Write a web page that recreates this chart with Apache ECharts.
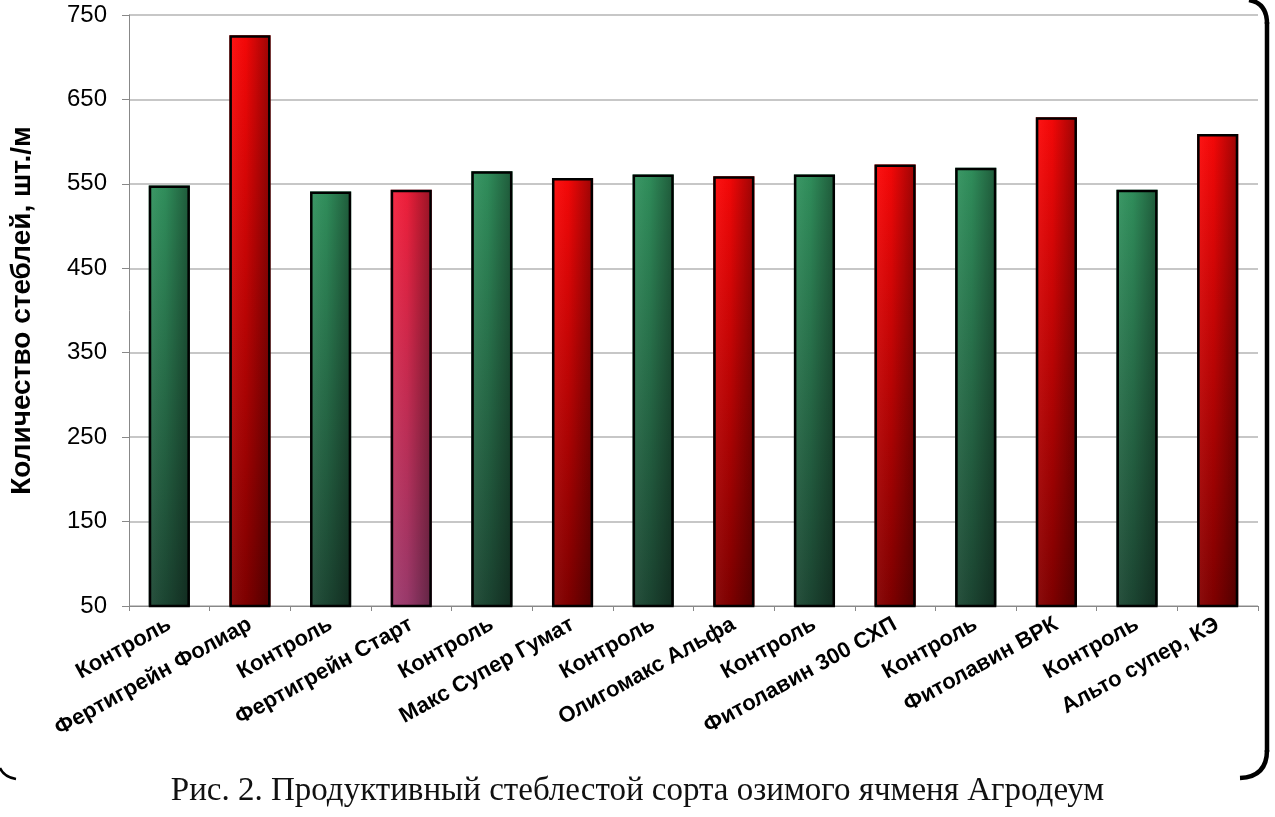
<!DOCTYPE html>
<html>
<head>
<meta charset="utf-8">
<script src="https://cdn.jsdelivr.net/npm/echarts@6/dist/echarts.min.js"></script>
<style>
  html, body { margin: 0; padding: 0; background: #fff; }
  #chart { width: 1275px; height: 817px; }
</style>
</head>
<body>
<div id="chart"></div>
<script>
// Продуктивный стеблестой, шт./м
var categories = ['Контроль', 'Фертигрейн Фолиар', 'Контроль', 'Фертигрейн Старт',
  'Контроль', 'Макс Супер Гумат', 'Контроль', 'Олигомакс Альфа', 'Контроль',
  'Фитолавин 300 СХП', 'Контроль', 'Фитолавин ВРК', 'Контроль', 'Альто супер, КЭ'];
var values = [548, 726, 541, 543, 565, 557, 561, 559, 561, 573, 569, 629, 543, 609];
var yTicks = [50, 150, 250, 350, 450, 550, 650, 750];

function vgrad(top, bottom) {
  return {
    type: 'linear', x: 0, y: 0, x2: 0, y2: 1,
    colorStops: [{ offset: 0, color: top }, { offset: 1, color: bottom }]
  };
}
var green = vgrad('#32945f', '#1d4834');
var red = vgrad('#ff0808', '#840000');
var pink = vgrad('#f8203c', '#a03c70');

var chart = echarts.init(document.getElementById('chart'));
chart.setOption({
  animation: false,
  grid: { left: 126, right: 17, top: 15, bottom: 211 },
  xAxis: {
    type: 'category',
    data: categories,
    axisLine: { lineStyle: { color: '#888', width: 1 } },
    axisTick: { show: true, length: 5, lineStyle: { color: '#888' } },
    axisLabel: {
      rotate: 29, interval: 0, margin: 17,
      fontFamily: 'Liberation Sans, Arial', fontWeight: 'bold', fontSize: 22, color: '#000'
    }
  },
  yAxis: {
    type: 'value',
    min: yTicks[0], max: yTicks[yTicks.length - 1], interval: 100,
    name: 'Количество стеблей, шт./м',
    nameLocation: 'middle', nameRotate: 90, nameGap: 93,
    nameTextStyle: { fontFamily: 'Liberation Sans, Arial', fontWeight: 'bold', fontSize: 28, color: '#000' },
    axisLine: { show: true, lineStyle: { color: '#888', width: 1 } },
    axisTick: { show: true, length: 7, lineStyle: { color: '#888' } },
    axisLabel: { margin: 22, fontFamily: 'Liberation Sans, Arial', fontSize: 24, color: '#000' },
    splitLine: { lineStyle: { color: '#b4b4b4', width: 1.5 } }
  },
  series: [
    {
      type: 'bar',
      barWidth: '51%',
      data: values.map(function (v, i) {
        var c = categories[i] === 'Контроль' ? green : (i === 3 ? pink : red);
        return { value: v, itemStyle: { color: c } };
      })
    },
    {
      // затенение слева направо поверх столбцов
      type: 'bar',
      barWidth: '51%',
      barGap: '-100%',
      data: values,
      itemStyle: {
        color: {
          type: 'linear', x: 0, y: 0, x2: 1, y2: 0,
          colorStops: [
            { offset: 0, color: 'rgba(255,255,255,0.06)' },
            { offset: 0.4, color: 'rgba(0,0,0,0.05)' },
            { offset: 1, color: 'rgba(0,0,0,0.4)' }
          ]
        },
        borderColor: '#000', borderWidth: 2.5
      },
      silent: true
    }
  ],
  graphic: [
    {
      type: 'line',
      shape: { x1: 1267, y1: 22, x2: 1267, y2: 752 },
      style: { stroke: '#000', lineWidth: 4.5 }
    },
    {
      type: 'bezierCurve',
      shape: { x1: 1249, y1: 0, cpx1: 1267, cpy1: 3, x2: 1267, y2: 24 },
      style: { fill: null, stroke: '#000', lineWidth: 4.5 }
    },
    {
      type: 'bezierCurve',
      shape: { x1: 1267, y1: 750, cpx1: 1267, cpy1: 777, x2: 1240, y2: 778 },
      style: { fill: null, stroke: '#000', lineWidth: 4.5 }
    },
    {
      type: 'bezierCurve',
      shape: { x1: 0, y1: 768, cpx1: 4, cpy1: 777, x2: 16, y2: 779 },
      style: { fill: null, stroke: '#000', lineWidth: 2.5 }
    },
    {
      type: 'text',
      left: 'center', top: 775,
      style: {
        text: 'Рис. 2. Продуктивный стеблестой сорта озимого ячменя Агродеум',
        font: '33px "Liberation Serif", "Times New Roman", serif', fill: '#111'
      }
    }
  ]
});
</script>
</body>
</html>
